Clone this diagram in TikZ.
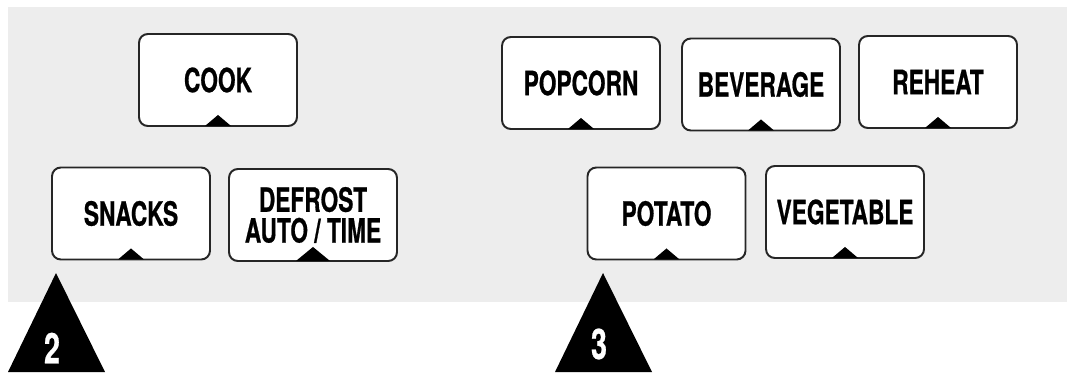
\documentclass[tikz,border=0pt]{standalone}
\usepackage{fontspec}
\newfontfamily\keyfont{TeX Gyre Heros}[FakeStretch=0.68, FakeBold=0.6]
\usetikzlibrary{calc}

\begin{document}
\begin{tikzpicture}[
  x=0.02cm, y=-0.02cm,
  key/.style    = {draw=black!85, line width=1.1pt, fill=white, rounded corners=5pt,
                   minimum width=3.16cm, minimum height=1.84cm, align=center,
                   inner sep=2pt, font=\keyfont\bfseries\fontsize{19}{17.5}\selectfont},
  tip/.style    = {fill=black},
  step num/.style = {text=white, font=\keyfont\bfseries\fontsize{24}{24}\selectfont}
]

%--------------------------------------------------
% panel
%--------------------------------------------------
\useasboundingbox (0,0) rectangle (1067,372);
\fill[white] (0,0) rectangle (1067,372);
\fill[black!7] (8,7) rectangle (1067,302);

%--------------------------------------------------
% keys (left group)
%--------------------------------------------------
\node[key] (cook)    at (218,80)    {COOK};
\node[key] (snacks)  at (131,213.5) {SNACKS};
\node[key, minimum width=3.36cm] (defrost) at (313,215) {DEFROST\\AUTO / TIME};

%--------------------------------------------------
% keys (right group)
%--------------------------------------------------
\node[key] (popcorn)   at (581,83)    {POPCORN};
\node[key] (beverage)  at (761,84.5)  {BEVERAGE};
\node[key] (reheat)    at (938,82)    {REHEAT};
\node[key] (potato)    at (666.5,213.5) {POTATO};
\node[key] (vegetable) at (845,212)   {VEGETABLE};

%--------------------------------------------------
% small marks on the keys
%--------------------------------------------------
\foreach \k in {cook, snacks, popcorn, beverage, reheat, potato, vegetable}
  \fill[tip] ($(\k.south)+(-13,-1)$) -- ++(13,-11) -- ++(13,11) -- cycle;
\fill[tip] ($(defrost.south)+(-17,-1)$) -- ++(17,-14) -- ++(17,14) -- cycle;

%--------------------------------------------------
% step markers
%--------------------------------------------------
\fill[tip] (8,372) -- (56,273) -- (105,372) -- cycle;
\node[step num] (two) at (52,348) {2};

\fill[tip] (555,372) -- (603,273) -- (652,372) -- cycle;
\node[step num] (three) at (599,344) {3};

\end{tikzpicture}
\end{document}
